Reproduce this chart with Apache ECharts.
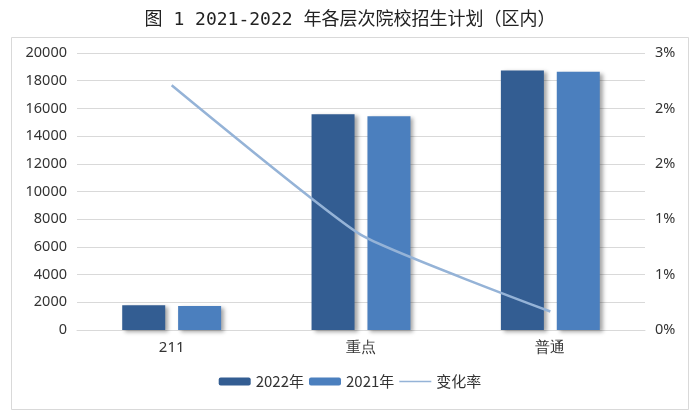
<!DOCTYPE html>
<html><head><meta charset="utf-8">
<script src="https://cdn.jsdelivr.net/npm/echarts@6/dist/echarts.min.js"></script>
<style>html,body{margin:0;padding:0;background:#fff}#c{width:700px;height:420px}</style>
</head><body><div id="c"></div>
<script>
const categories = ['211', '重点', '普通'];
const plan2022 = [1780, 15580, 18740];
const plan2021 = [1735, 15440, 18650];
const changeRate = [0.0265, 0.0103, 0.0020];
const seriesNames = ['2022年', '2021年', '变化率'];

const chart = echarts.init(document.getElementById('c'));
chart.setOption({
  animation: false,
  backgroundColor: '#fff',
  title: {
    text: '图 1 2021-2022 年各层次院校招生计划（区内）',
    left: 'center', top: 6,
    textStyle: { fontFamily: '"DejaVu Sans Mono", "Noto Sans CJK SC"', fontSize: 18, fontWeight: 'normal', color: '#222' }
  },
  graphic: [{
    type: 'rect', shape: { x: 11.5, y: 37.5, width: 677, height: 372 },
    style: { fill: 'none', stroke: '#d9d9d9', lineWidth: 1 }, silent: true
  }],
  legend: {
    data: [
      { name: seriesNames[0] },
      { name: seriesNames[1] },
      { name: seriesNames[2], icon: 'path://M0,3.2h32v1.6h-32zM0,0h0.01v8h-0.01z', itemStyle: { color: '#95b3d7' } }
    ],
    bottom: 26, left: 'center', itemGap: 5,
    itemWidth: 32, itemHeight: 8,
    textStyle: { fontFamily: 'Noto Sans CJK SC', fontSize: 15, color: '#333' }
  },
  grid: { left: 77, right: 55, top: 53, bottom: 90 },
  xAxis: {
    type: 'category', data: categories,
    axisLine: { lineStyle: { color: '#d9d9d9' } }, axisTick: { show: false },
    axisLabel: { fontFamily: 'Noto Sans', fontSize: 15, color: '#333', margin: 10 }
  },
  yAxis: [{
    type: 'value', min: 0, max: 20000, interval: 2000,
    axisLine: { show: false }, axisTick: { show: false },
    splitLine: { lineStyle: { color: '#d9d9d9' } },
    axisLabel: { fontFamily: 'Noto Sans', fontSize: 14.5, color: '#333', margin: 10,
      formatter: v => String(v) }
  }, {
    type: 'value', min: 0, max: 0.03, interval: 0.006,
    axisLine: { show: false }, axisTick: { show: false }, splitLine: { show: false },
    axisLabel: { fontFamily: 'Noto Sans', fontSize: 14.5, color: '#333', margin: 10,
      formatter: v => (v * 100).toFixed(0) + '%' }
  }],
  series: [{
    name: seriesNames[0], type: 'bar', data: plan2022, barWidth: 43, barGap: '30%',
    itemStyle: { color: '#335d92', shadowColor: 'rgba(0,0,0,0.35)', shadowBlur: 4, shadowOffsetX: 3, shadowOffsetY: 2 }
  }, {
    name: seriesNames[1], type: 'bar', data: plan2021, barWidth: 43,
    itemStyle: { color: '#4b7fbe', shadowColor: 'rgba(0,0,0,0.35)', shadowBlur: 4, shadowOffsetX: 3, shadowOffsetY: 2 }
  }, {
    name: seriesNames[2], type: 'line', yAxisIndex: 1, data: changeRate,
    showSymbol: false, symbol: 'none', smooth: 0.15,
    lineStyle: { color: '#95b3d7', width: 2.5 }, itemStyle: { color: '#95b3d7' }
  }]
});
</script></body></html>
